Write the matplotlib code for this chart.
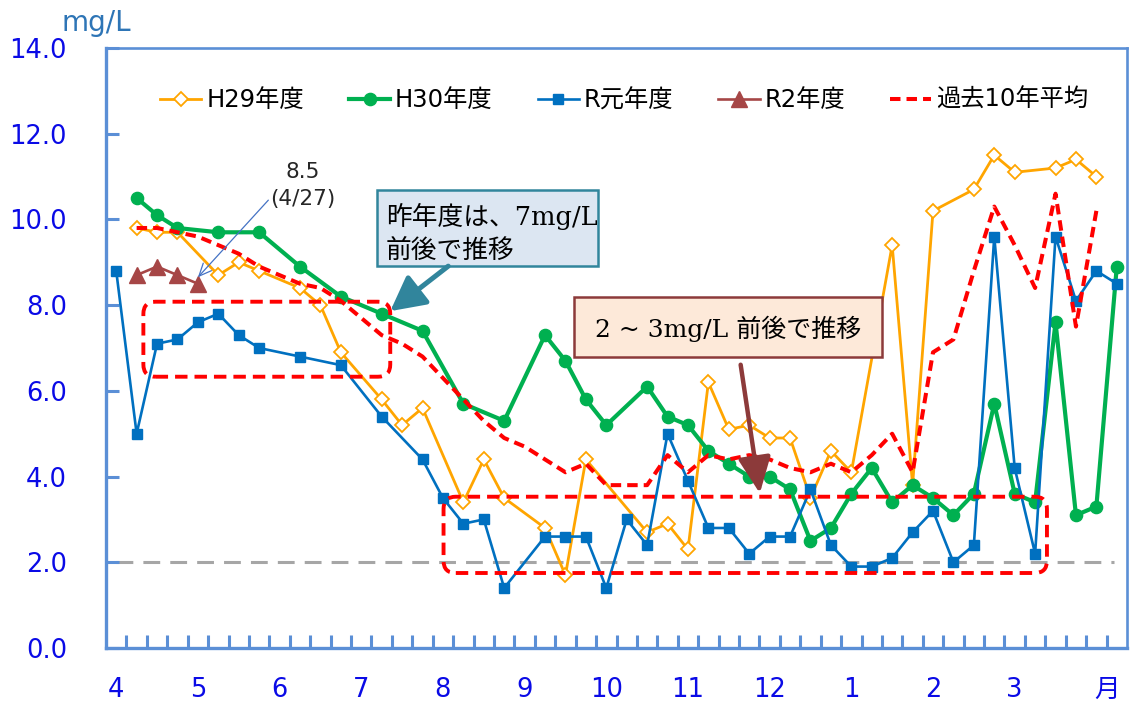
import matplotlib
matplotlib.use('Agg')
import matplotlib.pyplot as plt
import numpy as np
from matplotlib.patches import FancyBboxPatch, Rectangle

plt.rcParams['font.family'] = ['DejaVu Sans', 'Noto Sans CJK JP']

# weekly slots, 4 per month from April to March (50 slots)
N_SLOTS = 50
MONTH_LABELS = ['4', '5', '6', '7', '8', '9', '10', '11', '12', '1', '2', '3', '月']
MONTH_POS = [0, 4, 8, 12, 16, 20, 24, 28, 32, 36, 40, 44, 48.55]

H29 = [None, 9.8, 9.7, 9.7, None, 8.7, 9.0, 8.8, None, 8.4,
       8.0, 6.9, None, 5.8, 5.2, 5.6, None, 3.4, 4.4, 3.5,
       None, 2.8, 1.7, 4.4, None, None, 2.7, 2.9, 2.3, 6.2,
       5.1, 5.2, 4.9, 4.9, 3.5, 4.6, 4.1, None, 9.4, 3.8,
       10.2, None, 10.7, 11.5, 11.1, None, 11.2, 11.4, 11.0, None]
H30 = [None, 10.5, 10.1, 9.8, None, 9.7, None, 9.7, None, 8.9,
       None, 8.2, None, 7.8, None, 7.4, None, 5.7, None, 5.3,
       None, 7.3, 6.7, 5.8, 5.2, None, 6.1, 5.4, 5.2, 4.6,
       4.3, 4.0, 4.0, 3.7, 2.5, 2.8, 3.6, 4.2, 3.4, 3.8,
       3.5, 3.1, 3.6, 5.7, 3.6, 3.4, 7.6, 3.1, 3.3, 8.9]
R01 = [8.8, 5.0, 7.1, 7.2, 7.6, 7.8, 7.3, 7.0, None, 6.8,
       None, 6.6, None, 5.4, None, 4.4, 3.5, 2.9, 3.0, 1.4,
       None, 2.6, 2.6, 2.6, 1.4, 3.0, 2.4, 5.0, 3.9, 2.8,
       2.8, 2.2, 2.6, 2.6, 3.7, 2.4, 1.9, 1.9, 2.1, 2.7,
       3.2, 2.0, 2.4, 9.6, 4.2, 2.2, 9.6, 8.1, 8.8, 8.5]
R02 = [None, 8.7, 8.9, 8.7, 8.5] + [None] * 45
AVG10 = [None, 9.8, 9.8, 9.7, 9.6, 9.4, 9.2, 8.9, 8.7, 8.5,
         8.4, 8.1, 7.7, 7.3, 7.1, 6.8, 6.3, 5.8, 5.3, 4.9,
         4.7, 4.4, 4.1, 4.3, 3.8, 3.8, 3.8, 4.5, 4.1, 4.5,
         4.4, 4.5, 4.4, 4.2, 4.1, 4.3, 4.1, 4.5, 5.0, 4.1,
         6.9, 7.2, 8.8, 10.3, 9.4, 8.4, 10.6, 7.5, 10.2, None]
BASELINE = 2.0
R02_LAST = 8.5  # 4/27 value

AXIS_BLUE = '#5B8FD6'
LABEL_BLUE = '#0A0AE6'
MIXED = ['DejaVu Serif', 'Noto Sans CJK JP']


def series(vals):
    # gaps are bridged, like the spreadsheet chart does
    x = np.arange(len(vals))
    y = np.array([np.nan if v is None else v for v in vals], dtype=float)
    ok = ~np.isnan(y)
    return x[ok], y[ok]


fig = plt.figure(figsize=(11.3, 7.06), dpi=100)
ax = fig.add_axes([106 / 1130, 1 - 648 / 706, 1021 / 1130, 600 / 706])

ax.hlines(BASELINE, 0, N_SLOTS - 1.15, colors='#A6A6A6', lw=2.2,
          linestyles=(0, (5.5, 3.3)), zorder=1)

x, y = series(H29)
ax.plot(x, y, color='#FFA500', lw=2.0, marker='D', ms=7.5, mfc='white',
        mec='#FFA500', mew=1.3, label='H29年度', zorder=3)
x, y = series(H30)
ax.plot(x, y, color='#00B050', lw=3.0, marker='o', ms=8.8,
        label='H30年度', zorder=3)
x, y = series(R01)
ax.plot(x, y, color='#0070C0', lw=1.9, marker='s', ms=7.8,
        label='R元年度', zorder=3)
x, y = series(R02)
ax.plot(x, y, color='#A64646', lw=1.9, marker='^', ms=11,
        label='R2年度', zorder=3)
x, y = series(AVG10)
ax.plot(x, y, color='#FF0000', lw=2.9, ls=(0, (2.6, 1.5)),
        label='過去10年平均', zorder=3)

ax.set_xlim(-0.5, N_SLOTS - 0.5)
ax.set_ylim(0, 14)

for side, w in [('left', 2.4), ('bottom', 2.4), ('top', 1.9), ('right', 1.9)]:
    ax.spines[side].set_color(AXIS_BLUE)
    ax.spines[side].set_linewidth(w)

ax.set_yticks(np.arange(0, 15, 2))
ax.set_yticklabels([f'{v:.1f}' for v in np.arange(0, 15, 2)])
ax.tick_params(axis='y', direction='in', length=9, width=2.2,
               color=AXIS_BLUE, labelcolor=LABEL_BLUE, labelsize=18.5, pad=28)
ax.set_xticks(MONTH_POS)
ax.set_xticklabels(MONTH_LABELS)
ax.tick_params(axis='x', which='major', length=0, labelcolor=LABEL_BLUE,
               labelsize=18.5, pad=21)
ax.set_xticks(np.arange(0.5, N_SLOTS - 1, 1.0), minor=True)
ax.tick_params(axis='x', which='minor', direction='in', length=9.5,
               width=2.2, color=AXIS_BLUE)

fig.text(62 / 1130, 1 - 23 / 706, 'mg/L', color='#2E75B6', fontsize=20,
         ha='left', va='center')

ax.legend(loc='center left', bbox_to_anchor=(0.053, 0.913), ncol=5,
          frameon=False, fontsize=17.5, handlelength=1.7, handletextpad=0.2,
          columnspacing=1.85, borderpad=0, borderaxespad=0, numpoints=1)

# note on the last R2 value
ax.text(9.15, 10.8, f'{R02_LAST}\n(4/27)', ha='center', va='center',
        fontsize=15.5, color='#262626', linespacing=1.45)
ax.annotate('', xy=(4.0, R02_LAST + 0.15), xytext=(7.45, 10.45),
            arrowprops=dict(arrowstyle='->,head_length=0.45,head_width=0.2',
                            color='#4472C4', lw=0.9, shrinkA=0, shrinkB=0,
                            mutation_scale=20))

# red dashed rounded frames
frame_kw = dict(boxstyle='round,pad=0,rounding_size=0.6', mutation_aspect=0.476,
                fill=False, ec='#FF0000', lw=2.8, ls=(0, (3.2, 1.8)), zorder=5)
ax.add_patch(FancyBboxPatch((1.33, 6.33), 12.09, 1.75, **frame_kw))
ax.add_patch(FancyBboxPatch((16.03, 1.75), 29.55, 1.78, **frame_kw))

# callout: last year's level (text frame is shorter than the box)
box1 = Rectangle((12.78, 8.91), 10.79, 1.78, fc='#DCE6F2', ec='#31859C',
                 lw=1.8, zorder=6)
ax.add_patch(box1)
clip1 = Rectangle((12.78, 9.10), 10.79, 1.59, transform=ax.transData,
                  visible=False)
ax.add_patch(clip1)
for line, ly in [('昨年度は、7mg/L', 10.06), ('前後で推移', 9.28)]:
    t = ax.text(13.2, ly, line, ha='left', va='center', fontsize=18.5,
                family=MIXED, zorder=7)
    t.set_clip_path(clip1)
ax.annotate('', xy=(13.42, 7.86), xytext=(16.26, 8.91),
            arrowprops=dict(arrowstyle='-|>,head_length=1.05,head_width=0.55',
                            color='#31859C', lw=3.6, shrinkA=0, shrinkB=0,
                            mutation_scale=20), zorder=7)

# callout: recent level
box2 = Rectangle((22.44, 6.79), 15.05, 1.40, fc='#FDE9D9', ec='#8C3A3A',
                 lw=1.8, zorder=6)
ax.add_patch(box2)
ax.text(29.96, 7.45, '2 ~ 3mg/L 前後で推移', ha='center', va='center',
        fontsize=18, family=MIXED, zorder=7)
ax.annotate('', xy=(31.52, 3.61), xytext=(30.58, 6.61),
            arrowprops=dict(arrowstyle='-|>,head_length=1.1,head_width=0.5',
                            color='#8C3A3A', lw=3.2, shrinkA=0, shrinkB=0,
                            mutation_scale=20), zorder=7)

fig.savefig('out.png', dpi=100)
